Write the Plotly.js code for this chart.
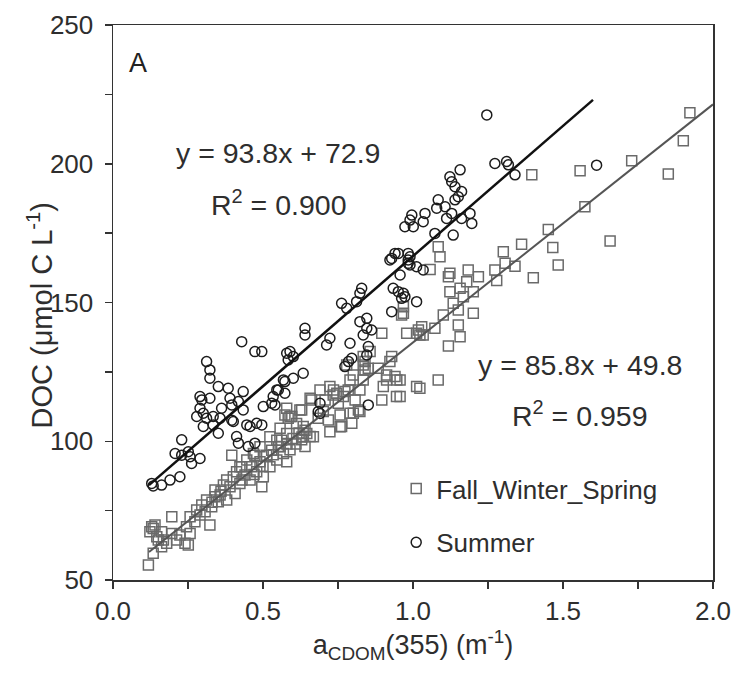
<!DOCTYPE html>
<html>
<head>
<meta charset="utf-8">
<script src="https://cdn.plot.ly/plotly-3.0.1.min.js"></script>
<style>html,body{margin:0;padding:0;background:#fff;}#chart{width:737px;height:673px;}</style>
</head>
<body>
<div id="chart"></div>
<script>
// Fall_Winter_Spring (squares)
const fwsX = [0.118,0.134,0.129,0.14,0.123,0.146,0.162,0.168,0.179,0.196,0.196,0.212,0.223,0.24,0.245,0.257,0.257,0.273,0.279,0.29,0.296,0.307,0.312,0.323,0.329,0.34,0.34,0.351,0.357,0.368,0.379,0.379,0.39,0.401,0.396,0.407,0.412,0.423,0.429,0.44,0.446,0.457,0.462,0.473,0.479,0.49,0.496,0.501,0.512,0.523,0.529,0.546,0.551,0.562,0.568,0.573,0.579,0.579,
  0.151,0.162,0.134,0.251,0.423,0.468,0.49,0.523,0.546,0.59,0.612,0.629,0.646,0.657,0.668,0.723,0.735,0.757,0.768,0.784,0.801,0.823,0.823,0.834,0.834,0.834,0.857,0.851,0.896,0.901,0.912,0.929,0.94,0.945,0.962,0.979,1.012,1.012,0.579,0.596,0.69,
  0.968,1.018,1.034,0.84,0.84,0.884,0.912,0.923,0.946,0.896,0.779,0.79,0.801,0.773,0.807,0.818,0.79,0.757,0.762,0.796,0.751,0.734,0.723,0.746,0.707,0.662,0.623,0.701,0.718,0.684,0.584,0.557,0.634,0.657,0.629,0.557,0.59,0.64,0.534,
  0.6,0.62,0.64,0.61,0.63,0.58,0.5,0.47,0.43,0.36,0.33,
  1.396,1.557,1.729,1.923,1.901,1.851,1.573,1.451,1.362,1.301,1.466,1.484,1.657,1.401,1.34,1.307,1.279,1.273,1.218,1.184,1.179,1.201,1.123,1.118,1.123,1.157,1.168,1.134,1.201,1.084,1.09,1.057,1.101,1.151,1.151,1.157,1.118,1.073,1.029,1.023,0.968,1.084,1.023,0.957,0.957];
const fwsY = [55.4,59.6,69.2,69.8,67.4,65.6,67.4,64.4,63.2,72.8,66.8,64.4,66.2,63.2,69.2,66.8,72.8,71,75.2,73.4,77,74.6,78.8,69.8,76.4,82.4,80,78.2,80.6,84.2,78.8,86,83.6,87.2,95,81.2,89,84.8,90.8,87.8,93.2,86,90.8,95,89,92.6,83.6,87.2,95,90.8,96.8,93.2,98,100.4,95.6,109.5,102.8,92.6,
  64.4,62,68.6,62.6,90.8,95.6,98,101.6,100.4,108.9,106.4,111.3,102.8,115.5,101.6,103.4,118.5,105.2,116.1,118.5,110.1,110.7,118.5,122.1,127.5,130.5,132.3,126.3,138.9,119.7,122.1,130.5,123.3,116.1,145.5,138.9,138.9,119.7,111.9,108.9,118.5,
  148.5,140.1,138.3,128.7,125.7,126.3,123.9,128.7,122.1,114.9,127.5,122.1,123.9,117.9,114.9,111.3,110.1,109.5,105.3,106.5,113.7,116.7,119.7,117.3,114.9,114.9,111.3,110.7,107.7,108.3,108.3,104.7,105.3,101.7,100.5,98.1,96.9,98.1,95.1,
  101,103,104,99,101.5,99,91,88,86,82,78,
  196,197.5,201.1,218.4,208.3,196.3,184.5,176.3,171,168.3,169.8,163.5,172.2,158.9,163.1,164.1,157.9,161.7,159.3,161.7,157.5,153.9,160.5,159.3,153.9,155.1,152.1,149.7,146.1,170.1,166.5,161.9,145.5,147.3,141.9,137.7,134.3,140.7,141.3,138.3,146.1,122.1,119.1,122.1,116.1];

// Summer (circles)
const sumX = [0.129,0.134,0.162,0.19,0.223,0.229,0.207,0.229,0.251,0.257,0.262,0.29,0.279,0.29,0.296,0.301,0.301,0.29,0.312,0.323,0.323,0.312,0.334,0.323,0.334,0.351,0.351,0.357,0.362,0.384,0.39,0.396,0.418,0.401,0.396,0.434,0.434,0.429,0.473,0.496,0.446,0.457,0.479,0.496,0.412,0.418,0.451,0.473,
  0.501,0.54,0.546,0.568,0.579,0.584,0.59,0.601,0.573,0.551,0.573,0.534,0.529,0.601,0.634,0.64,0.64,0.723,0.712,0.69,0.69,0.684,0.762,0.779,0.812,0.823,0.829,0.79,0.796,0.785,0.773,0.823,0.846,0.846,0.862,0.834,0.851,0.846,0.851,
  0.929,0.951,0.984,1.012,1.034,0.957,0.934,0.951,0.968,0.973,1.012,0.929,0.99,0.996,1.001,0.973,1.04,1.034,1.073,1.134,1.079,1.084,1.107,1.129,1.112,1.162,1.19,1.196,1.123,1.129,1.14,1.162,1.151,1.14,1.157,1.246,1.273,1.312,1.318,1.34,1.612,0.99,0.99,0.962,0.94,0.984,0.923,0.984];
const sumY = [84.8,83.9,84.2,86,87.2,100.5,95.6,95,96.2,94.4,92,93.8,108.9,116.1,114.9,110.1,105.3,111.9,128.7,125.7,122.7,108.3,108.9,115.5,105.9,102.9,119.7,108.3,111.9,119.1,115.5,113.1,114.3,107.1,107.6,117.9,111.3,135.9,132.3,132.3,105.9,105.3,106.5,105.9,101.7,99.3,98.1,99.3,
  112.5,113.1,118.5,122.1,131.7,129.3,132.3,130.5,121.5,118.5,117.3,116.1,113.7,122.7,124.5,140.7,138.3,137.1,134.7,113.7,110,110.7,149.7,147.9,150.3,153.3,155.1,135.3,129.9,128.7,126.9,143.1,144.3,140.7,140.1,138.3,134.1,131.1,113.1,
  165.9,167.7,165.3,162.9,161.7,159.9,155.1,153.9,153.3,152.1,150.3,146.7,179.7,181.5,177.3,177.3,182.1,179.1,174.9,174.3,184,187,184.5,182.1,180.3,180.3,182.1,178.5,195.3,193.5,191.7,190,188.1,187,197.8,217.6,200.1,200.8,199.6,196,199.5,166.5,163.5,151.5,167.7,167.7,165.3,164.1];

// Regression line endpoints
const sumFitX = [0.12, 1.6];
const sumFitY = [84.2, 223.0];
const fwsFitX = [0.12, 2.0];
const fwsFitY = [60.1, 221.4];

const xTicks = [0, 0.5, 1.0, 1.5, 2.0];
const yTicks = [50, 100, 150, 200, 250];

const FONT = 'Liberation Sans, Arial, sans-serif';
const TXT = '#2e2e2e';

const traces = [
  {x: fwsX, y: fwsY, type: 'scatter', mode: 'markers', name: 'Fall_Winter_Spring', legendgroup: 'a',
   marker: {symbol: 'square-open', size: 10, color: '#6a6a6a', line: {width: 1.5, color: '#6a6a6a'}}},
  {x: sumX, y: sumY, type: 'scatter', mode: 'markers', name: 'Summer', legendgroup: 'b',
   marker: {symbol: 'circle-open', size: 10, color: '#1c1c1c', line: {width: 1.5, color: '#1c1c1c'}}},
  {x: fwsFitX, y: fwsFitY, type: 'scatter', mode: 'lines', showlegend: false, hoverinfo: 'skip',
   line: {color: '#555', width: 2}},
  {x: sumFitX, y: sumFitY, type: 'scatter', mode: 'lines', showlegend: false, hoverinfo: 'skip',
   line: {color: '#111', width: 2.5}}
];

const layout = {
  width: 737, height: 673,
  margin: {l: 113, r: 24, t: 25, b: 93},
  paper_bgcolor: '#fff', plot_bgcolor: '#fff',
  font: {family: FONT, color: TXT, size: 26},
  showlegend: true,
  legend: {x: 0.472, y: 0.207, xanchor: 'left', yanchor: 'top', bgcolor: 'rgba(0,0,0,0)',
           font: {size: 26, color: TXT}, traceorder: 'grouped', tracegroupgap: 17, itemwidth: 30},
  xaxis: {range: [0, 2.0], tickvals: xTicks, ticktext: xTicks.map(v => v.toFixed(1)),
          showline: true, mirror: true, linecolor: '#333', linewidth: 1.5, showgrid: false, zeroline: false,
          ticks: 'outside', ticklen: 7, tickwidth: 1.5, tickcolor: '#333',
          minor: {dtick: 0.25, tick0: 0, ticks: 'outside', ticklen: 7, tickwidth: 1.5, tickcolor: '#333', showgrid: false},
          tickfont: {size: 26, color: TXT},
          title: {text: 'a<sub>CDOM</sub>(355) (m<sup>-1</sup>)', font: {size: 27, color: TXT}, standoff: 2}},
  yaxis: {range: [50, 250], tickvals: yTicks,
          showline: true, mirror: true, linecolor: '#333', linewidth: 1.5, showgrid: false, zeroline: false,
          ticks: 'outside', ticklen: 7, tickwidth: 1.5, tickcolor: '#333', ticklabelstandoff: 6,
          minor: {dtick: 25, tick0: 50, ticks: 'outside', ticklen: 7, tickwidth: 1.5, tickcolor: '#333', showgrid: false},
          tickfont: {size: 26, color: TXT}},
  annotations: [
    {x: -0.122, y: 0.478, xref: 'paper', yref: 'paper', xanchor: 'center', yanchor: 'middle',
     text: 'DOC (μmol C L<sup>-1</sup>)', textangle: -90, showarrow: false, font: {size: 29, color: TXT}},
    {x: 0.083, y: 236.3, xref: 'x', yref: 'y', text: 'A', showarrow: false, font: {size: 27, color: '#222'}},
    {x: 0.55, y: 203.9, xref: 'x', yref: 'y', text: 'y = 93.8x + 72.9', showarrow: false, font: {size: 28.5, color: TXT}},
    {x: 0.553, y: 185.9, xref: 'x', yref: 'y', text: 'R<sup>2</sup> = 0.900', showarrow: false, font: {size: 28.5, color: TXT}},
    {x: 1.557, y: 127.4, xref: 'x', yref: 'y', text: 'y = 85.8x + 49.8', showarrow: false, font: {size: 28.5, color: TXT}},
    {x: 1.557, y: 109.7, xref: 'x', yref: 'y', text: 'R<sup>2</sup> = 0.959', showarrow: false, font: {size: 28.5, color: TXT}}
  ]
};

Plotly.newPlot('chart', traces, layout, {displayModeBar: false, staticPlot: true});
</script>
</body>
</html>
